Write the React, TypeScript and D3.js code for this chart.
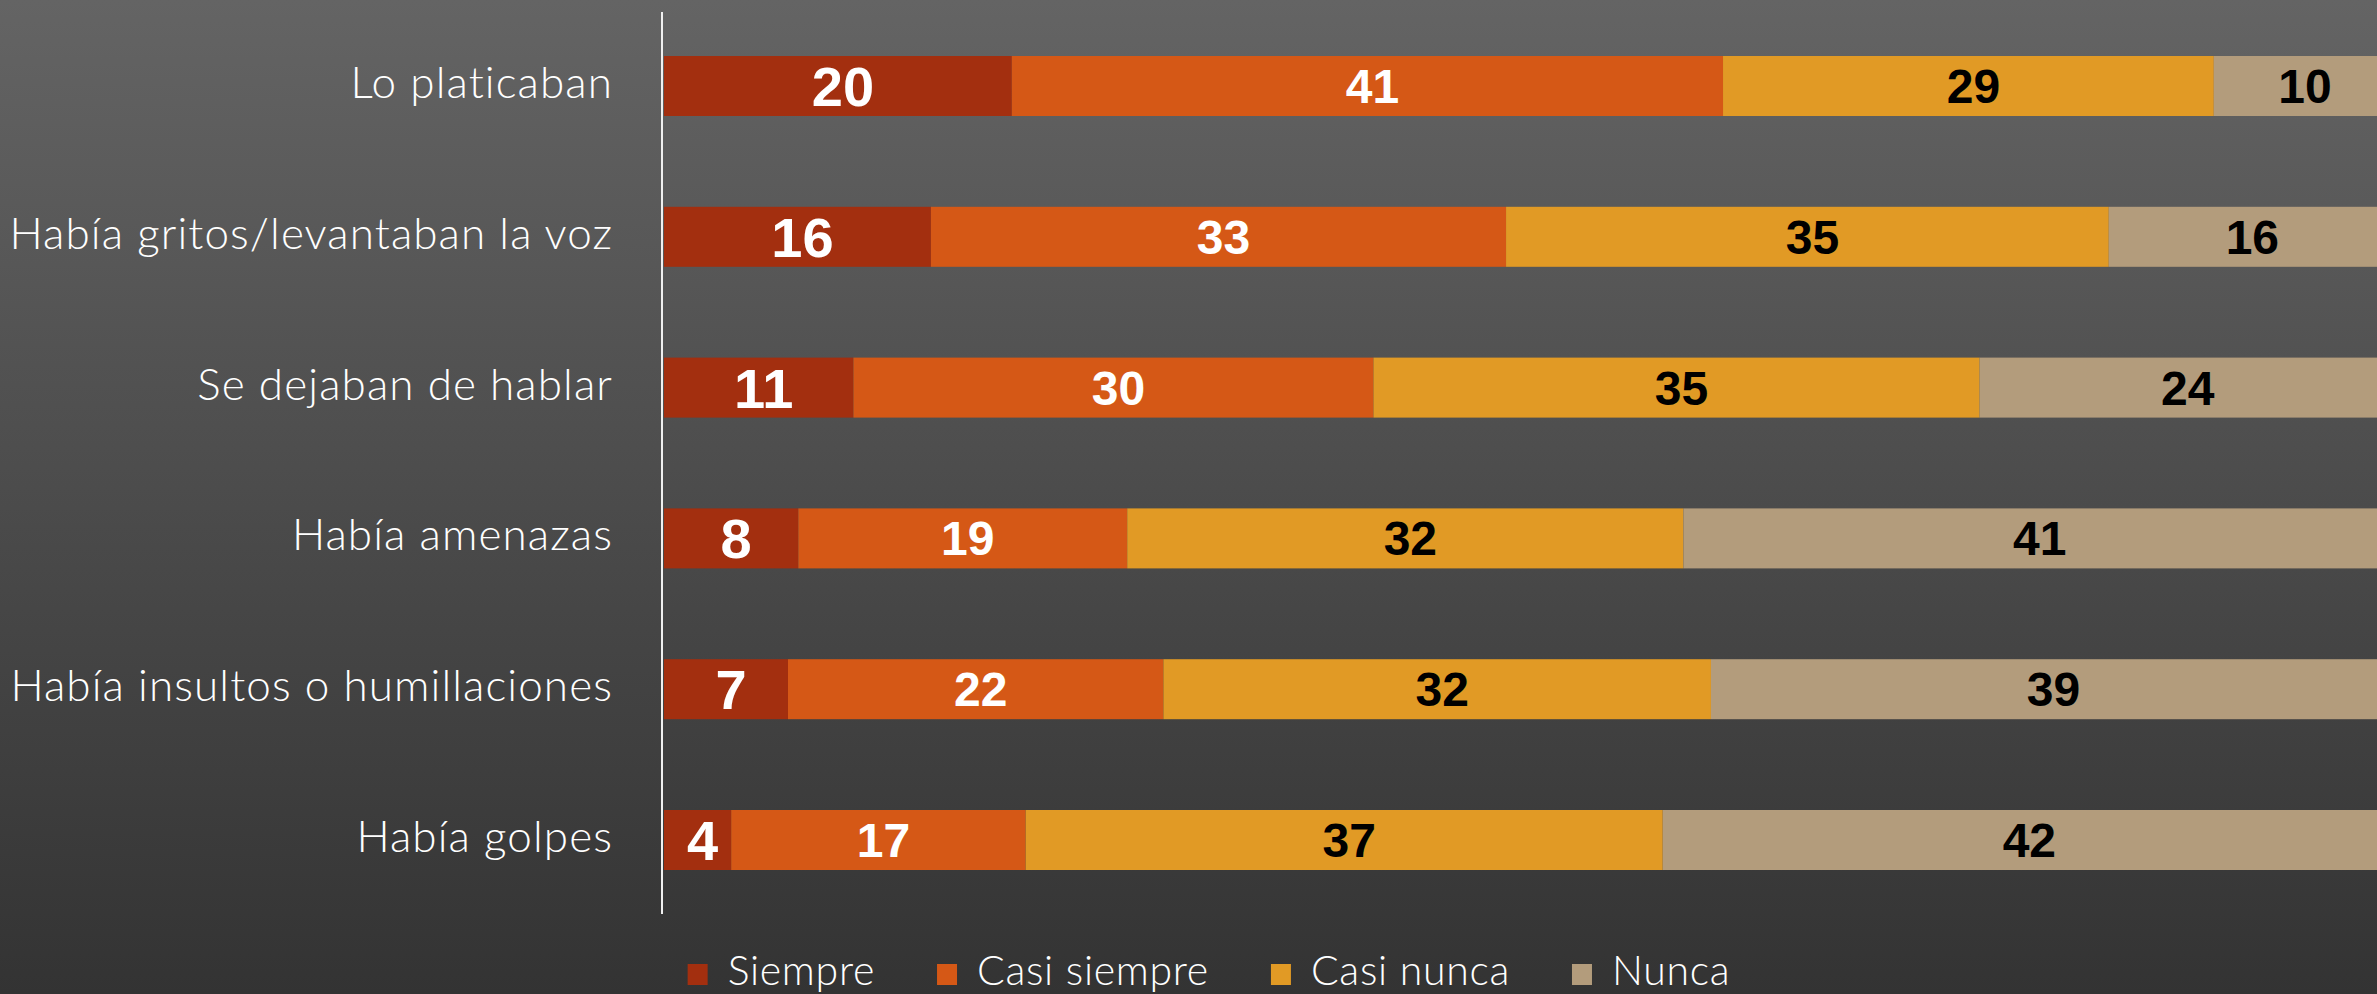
import React, { useEffect, useRef } from "react";
import * as d3 from "d3";

const categories = [
  "Lo platicaban",
  "Había gritos/levantaban la voz",
  "Se dejaban de hablar",
  "Había amenazas",
  "Había insultos o humillaciones",
  "Había golpes",
];
const seriesNames = ["Siempre", "Casi siempre", "Casi nunca", "Nunca"];
const siempre = [20.2, 15.5, 11.0, 7.8, 7.2, 3.9];
const casiSiempre = [41.3, 33.4, 30.2, 19.1, 21.8, 17.1];
const casiNunca = [28.5, 35.0, 35.2, 32.3, 31.8, 37.0];
const nunca = [10.0, 16.1, 23.6, 40.8, 39.2, 42.0];
const seriesColors = ["#A32F0F", "#D55816", "#E19A25", "#B39C7C"];
const labelColors = ["#FFFFFF", "#FFFFFF", "#000000", "#000000"];

const W = 2377;
const H = 994;

export default function App() {
  const ref = useRef<SVGSVGElement | null>(null);

  useEffect(() => {
    document.body.style.margin = "0";
    const svg = d3.select(ref.current);
    svg.selectAll("*").remove();

    const defs = svg.append("defs");
    const grad = defs
      .append("linearGradient")
      .attr("id", "bg")
      .attr("x1", 0)
      .attr("y1", 0)
      .attr("x2", 0)
      .attr("y2", 1);
    grad.append("stop").attr("offset", "0%").attr("stop-color", "#646464");
    grad.append("stop").attr("offset", "100%").attr("stop-color", "#333333");
    svg.append("rect").attr("width", W).attr("height", H).attr("fill", "url(#bg)");

    const x = d3.scaleLinear().domain([0, 100]).range([664, 2386]);
    const y = d3.scalePoint<string>().domain(categories).range([86, 840]);
    const barH = 60;

    const table = categories.map((c, i) => ({
      cat: c,
      Siempre: siempre[i],
      "Casi siempre": casiSiempre[i],
      "Casi nunca": casiNunca[i],
      Nunca: nunca[i],
    }));
    const stacked = d3.stack<any>().keys(seriesNames)(table);

    const g = svg.append("g");
    stacked.forEach((layer, si) => {
      const lg = g.append("g");
      lg.selectAll("rect")
        .data(layer)
        .join("rect")
        .attr("x", (d) => x(d[0]))
        .attr("y", (d) => (y(d.data.cat) as number) - barH / 2)
        .attr("width", (d) => x(d[1]) - x(d[0]))
        .attr("height", barH)
        .attr("fill", seriesColors[si]);
      lg.selectAll("text")
        .data(layer)
        .join("text")
        .attr("x", (d) => (x(d[0]) + x(d[1])) / 2 + 5)
        .attr("y", (d) => (y(d.data.cat) as number) + (si === 0 ? 20 : 17))
        .attr("text-anchor", "middle")
        .attr("font-family", "'Liberation Sans', Arial, sans-serif")
        .attr("font-weight", "bold")
        .attr("font-size", si === 0 ? 56 : 48)
        .attr("fill", labelColors[si])
        .text((d) => Math.round(d[1] - d[0]));
    });

    // category labels
    svg
      .append("g")
      .selectAll("text")
      .data(categories)
      .join("text")
      .attr("x", 613)
      .attr("y", (d) => (y(d) as number) + 12)
      .attr("text-anchor", "end")
      .attr("font-family", "'Century Gothic', Lato, sans-serif")
      .attr("font-weight", 300)
      .attr("font-size", 44)
      .attr("letter-spacing", 1.1)
      .attr("fill", "#FFFFFF")
      .text((d) => d);

    // axis line
    svg
      .append("line")
      .attr("x1", 662)
      .attr("x2", 662)
      .attr("y1", 12)
      .attr("y2", 914)
      .attr("stroke", "#F0F0F0")
      .attr("stroke-width", 2);

    // legend
    const lg = svg.append("g");
    let cx = 0;
    const gap = 62;
    seriesNames.forEach((name, i) => {
      const item = lg.append("g").attr("transform", `translate(${cx},0)`);
      item
        .append("rect")
        .attr("x", 0)
        .attr("y", -21)
        .attr("width", 20)
        .attr("height", 21)
        .attr("fill", seriesColors[i]);
      const t = item
        .append("text")
        .attr("x", 40)
        .attr("y", 0)
        .attr("font-family", "'Century Gothic', Lato, sans-serif")
        .attr("font-weight", 300)
        .attr("font-size", 41)
        .attr("letter-spacing", 0.7)
        .attr("fill", "#FFFFFF")
        .text(name);
      const tw = (t.node() as SVGTextElement).getComputedTextLength();
      cx += 40 + tw + gap;
    });
    const total = cx - gap;
    lg.attr("transform", `translate(${1209 - total / 2},985)`);
  }, []);

  return <svg ref={ref} width={W} height={H} style={{ display: "block" }} />;
}
